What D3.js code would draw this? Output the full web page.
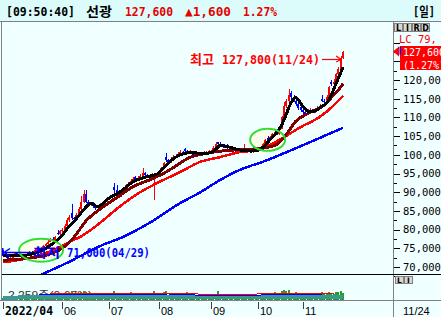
<!DOCTYPE html>
<html><head><meta charset="utf-8">
<script src="https://cdn.jsdelivr.net/npm/d3@7"></script>
<style>
html,body{margin:0;padding:0;background:#f0ffff;overflow:hidden}
svg{display:block}
</style></head><body>
<svg id="c" width="441" height="317"></svg>
<script>
// ---------- DATA ----------
const holidays = ["2022-05-05","2022-06-01","2022-06-06","2022-08-15","2022-09-09","2022-09-12","2022-10-03","2022-10-10"];
const firstDay = "2022-04-26", lastDay = "2022-11-24";
const tickMonths = ["2022-04","2022-06","2022-07","2022-08","2022-09","2022-10","2022-11"];
const tickLabels = ["2022/04","06","07","08","09","10","11"];
const priceTicks = [70000,75000,80000,85000,90000,95000,100000,105000,110000,115000,120000];

// daily candles [open, high, low, close]
const candles = [
[74000,74500,73000,73300],[73300,73800,72500,72800],[72800,73200,71800,72000],[72000,72800,71000,72500],
[72500,73500,72300,73200],[73200,74000,73000,73800],[73800,74000,73200,73500],[73500,73700,72800,73000],
[73000,73200,72400,72700],[72700,73400,72500,73100],[73100,73900,73000,73600],[73600,74300,73400,74000],
[74000,74200,73500,73700],[73700,74500,73600,74200],[74200,75000,74000,74800],[74800,75000,74200,74400],
[74400,75300,74300,75000],[75000,75900,74800,75600],[75600,76500,75400,76200],[76200,77200,76000,76800],
[76800,77800,76600,77500],[77500,77900,76900,77200],[77200,78300,77000,78000],[79200,79800,78500,78800],
[78800,79800,78600,79500],
[79500,80500,79200,80000],[80000,81500,79800,81000],[81000,83000,80800,82500],[82500,84000,82000,83500],
[84500,86800,82500,83000],[83000,83500,82000,82800],[82800,84500,82600,84000],[84000,86000,83800,85500],
[85500,89000,85200,87500],[87500,90600,87000,89500],[89500,90600,87000,87500],[87500,88000,86000,86500],
[86500,87500,86200,87000],[87000,87300,85800,86200],[86200,86500,85300,85800],[85800,86400,85500,86000],
[86000,87000,85800,86500],[86500,87300,86200,87000],[87000,87800,86700,87500],[87500,88400,87200,88000],
[88000,89000,87800,88500],[88500,89600,88300,89200],[91500,92500,89800,90500],[90500,91800,89500,89800],
[89800,90200,88700,89000],[89000,90200,88800,89800],[89800,91200,89600,90800],[90800,92300,90500,91800],
[91800,92800,91500,92300],[92300,93400,92000,93000],[93000,94000,92800,93500],[94000,94300,93000,93200],
[93200,94200,93000,93800],[93800,94800,93600,94200],[94200,96500,94000,95200],[95200,95500,94200,94500],
[94500,94800,93700,94000],[94000,94700,93800,94300],[94300,95200,94000,94800],[93500,95000,88000,94500],
[94500,95400,94300,95000],
[95000,95900,94800,95500],[95500,96800,95300,96500],[96500,98200,96300,97800],[99500,100500,98200,98500],
[98500,98800,97600,98000],[98000,99400,97800,99000],[99000,99900,98700,99500],[99500,100200,99200,99800],
[99800,100700,99600,100300],[100300,101200,100000,100800],[100800,101000,100200,100500],[101500,101800,100800,101000],
[101000,101200,100300,100500],[100500,101200,100300,100800],[100800,101000,100000,100200],[100200,100500,99700,100000],
[100000,100700,99800,100300],[100300,100500,99600,99900],[99900,100500,99700,100200],[100200,100900,100000,100500],
[100500,101000,100300,100700],[100700,101200,100500,100800],
[100800,101400,100600,101000],[101000,102300,100800,101800],[101800,103400,101600,102800],[103300,103500,102500,103000],
[103000,103300,102200,102500],[102500,102800,101900,102200],[102200,102600,101700,102000],[102500,102800,101600,101800],
[101800,102000,101200,101500],[101500,101800,101000,101300],[101300,101500,100700,101000],[101000,101500,100800,101200],
[101200,101400,100700,101000],[101000,101600,100800,101300],[101300,102800,101100,101500],[101500,101700,101000,101200],
[101200,101400,100700,101000],[101000,101200,100500,100800],[100800,101300,100600,101000],[101000,101600,100800,101200],
[101200,101800,101000,101500],[101500,102300,101300,102000],[102000,103100,101800,102800],[102800,104300,102600,104000],
[104500,105000,103500,103800],[103800,105100,103600,104800],[104800,105900,104500,105500],[105500,106400,105200,106000],
[106300,106500,105200,105500],[105500,107500,105300,107000],[107000,110500,106800,110000],[110000,114000,109500,113000],
[113000,115000,112500,114500],[114500,117500,114000,116000],[116500,117000,115000,115500],[115500,116000,114000,114500],
[114500,115000,113000,113500],[113500,113800,112000,112500],[112800,113200,111500,112000],
[112000,112300,111000,111500],[111500,111800,110500,111000],[111000,112200,110800,111800],[111800,112500,111500,112000],
[112000,112300,111200,111500],[111500,112600,111300,112200],[112200,113000,112000,112500],[112500,113500,112300,113000],
[115000,116000,114000,114500],[114500,114800,113600,114000],[114000,116000,113800,115500],[115500,118500,115300,118000],
[119500,120000,118500,119000],[119000,120200,118700,119500],[119500,122000,119300,121500],[121500,123500,121000,123000],
[123000,126500,122500,126000],[126000,127800,125500,127600]
];

// moving averages: [day index, value]
const ma5 = [[0,73200],[5,73000],[10,73200],[15,74000],[20,75800],[25,78500],[28,81000],[30,82200],[33,84500],[35,86000],[37,87000],[40,86200],[45,88500],[50,90300],[55,92800],[60,94000],[65,94800],[68,96500],[70,97800],[75,100000],[80,100600],[85,100300],[88,100600],[90,101500],[92,102500],[95,102200],[100,101300],[105,101000],[108,101200],[110,102000],[113,104000],[115,105300],[118,108000],[120,111000],[122,114000],[124,115300],[126,113800],[128,112200],[130,111500],[133,112000],[135,113000],[137,113800],[139,116000],[141,119000],[143,122000],[144,123500]];
const ma20 = [[0,71800],[10,72300],[20,73500],[25,75000],[30,78000],[35,82300],[41,85500],[48,88500],[55,91500],[62,93300],[69,95400],[75,97800],[79,99300],[83,100000],[90,100800],[98,101300],[105,101500],[112,102000],[116,102800],[120,105500],[124,109000],[129,111000],[134,112500],[137,113800],[139,115300],[142,117300],[144,119000]];
const ma60 = [[0,71300],[13,72700],[21,74500],[29,77000],[33,78200],[41,81800],[49,86000],[58,90000],[66,92700],[75,95400],[83,98000],[92,99400],[100,100700],[108,101300],[117,104000],[126,107400],[134,110100],[140,113200],[144,115800]];
const ma120 = [[0,63300],[10,66200],[17,68200],[27,71100],[44,76400],[48,77300],[62,81800],[75,87100],[83,89800],[92,93300],[100,95900],[112,98600],[120,100700],[130,103400],[144,107200]];

// volume (thousand shares)
const volume = [20,18,25,30,22,18,15,17,16,20,22,18,16,20,24,18,20,25,28,30,35,26,30,40,38,
45,50,60,55,80,40,38,50,70,85,75,45,35,30,28,30,35,45,40,38,
42,55,85,60,45,40,50,55,48,70,60,45,40,42,65,40,35,38,50,80,55,
50,60,70,85,50,45,48,52,40,55,60,50,75,45,40,35,38,42,35,40,38,36,
35,40,55,80,50,38,35,42,38,30,28,30,32,35,40,30,28,30,32,35,
38,40,45,55,60,58,65,75,55,60,80,95,85,90,60,55,70,50,45,
60,45,40,42,38,40,45,48,70,55,60,75,65,55,70,75,85,60];
const volMaA = [[0,22],[30,26],[60,27],[90,24],[120,27],[144,28]];
const volMaB = [[15,50],[40,52],[55,50],[70,55],[80,46],[100,42],[120,50],[135,52]];
const volMaC = [[20,58],[45,60],[60,56],[75,58],[95,50],[115,58],[125,60],[140,56]];

const hdr = {time:"[09:50:40]", name:"선광", price:"127,600", chg:"▲1,600", pct:"1.27%", period:"[일]"};
const hiNote = {idx:144, val:127800, label:"최고", text:"127,800(11/24)"};
const loNote = {idx:3, val:71000, label:"최저", text:"71,000(04/29)"};
const volText = "2,259주(0.67%)";
const lastLabel = {price:"127,600", pct:"(1.27%)", lc:"LC  79,"};

// ---------- BUILD ----------
const dates = (()=>{const out=[];let t=Date.parse(firstDay+"T00:00:00Z");const end=Date.parse(lastDay+"T00:00:00Z");
  while(t<=end){const d=new Date(t);const s=d.toISOString().slice(0,10);const w=d.getUTCDay();
    if(w!==0&&w!==6&&!holidays.includes(s))out.push(s);t+=86400000;}return out;})();

const svg = d3.select("#c");
const W=441,H=317;
const RED="#ff0000", BLUE="#0000ff", HRED="#e60000";
const x = d3.scalePoint().domain(dates).range([3.3,343.1]);
const y = d3.scaleLinear().domain([70000,120000]).range([267,80]);
const yv = d3.scaleLinear().domain([0,220]).range([300,276]);
const xi = i=>x(dates[i]);

svg.append("rect").attr("width",W).attr("height",H).attr("fill","#f0ffff");
svg.append("rect").attr("width",W).attr("height",21).attr("fill","#dcfcfc");

const defs = svg.append("defs");
defs.append("clipPath").attr("id","cp").append("rect").attr("x",2).attr("y",22).attr("width",391).attr("height",252);
defs.append("clipPath").attr("id","cv").append("rect").attr("x",2).attr("y",275).attr("width",391).attr("height",25);

// frame lines
const frame = svg.append("g").attr("shape-rendering","crispEdges");
frame.append("line").attr("x1",0).attr("x2",W).attr("y1",21.5).attr("y2",21.5).attr("stroke","#808080");
frame.append("line").attr("x1",1.5).attr("x2",1.5).attr("y1",22).attr("y2",301).attr("stroke","#808080");
frame.append("line").attr("x1",393.5).attr("x2",393.5).attr("y1",22).attr("y2",H).attr("stroke","#808080");
frame.append("line").attr("x1",2).attr("x2",W).attr("y1",274.5).attr("y2",274.5).attr("stroke","#000");
frame.append("line").attr("x1",0).attr("x2",W).attr("y1",300.5).attr("y2",300.5).attr("stroke","#808080");

// header
const hf = "'DejaVu Sans Mono','Noto Sans CJK KR',monospace";
function htext(t,xx,len,col){svg.append("text").attr("x",xx).attr("y",15.5).attr("font-family",hf).attr("font-weight","bold")
  .attr("font-size",13).attr("fill",col).attr("textLength",len).attr("lengthAdjust","spacingAndGlyphs").text(t);}
htext(hdr.time,6,69,"#000");
htext(hdr.name,86,26,"#000");
htext(hdr.price,125,48,HRED);
htext(hdr.chg,185,46,HRED);
htext(hdr.pct,243,34,HRED);
htext(hdr.period,413,22,"#000");

// price pane
const pane = svg.append("g").attr("clip-path","url(#cp)");
const ell = [{i:16,v:74500,rx:22,ry:11.5},{i:112,v:104000,rx:17.5,ry:11}];
pane.selectAll("ellipse.f").data(ell).join("ellipse").attr("cx",d=>xi(d.i)).attr("cy",d=>y(d.v))
  .attr("rx",d=>d.rx).attr("ry",d=>d.ry).attr("fill","#fffbe6").attr("opacity",0.8);

const cg = pane.append("g").attr("shape-rendering","crispEdges");
cg.selectAll("line").data(candles).join("line")
  .attr("x1",(d,i)=>Math.round(xi(i))+0.5).attr("x2",(d,i)=>Math.round(xi(i))+0.5)
  .attr("y1",d=>y(d[1])).attr("y2",d=>y(d[2]))
  .attr("stroke",d=>d[3]>=d[0]?RED:BLUE);
cg.selectAll("rect").data(candles).join("rect")
  .attr("x",(d,i)=>Math.round(xi(i))-1).attr("width",2)
  .attr("y",d=>y(Math.max(d[0],d[3]))).attr("height",d=>Math.max(1,Math.abs(y(d[0])-y(d[3]))))
  .attr("fill",d=>d[3]>=d[0]?RED:BLUE);

const line = d3.line().x(d=>xi(d[0])).y(d=>y(d[1])).curve(d3.curveMonotoneX);
[[ma120,BLUE,2.5],[ma60,RED,2.5],[ma20,"#800000",3],[ma5,"#000",3]].forEach(([a,c,w])=>{
  pane.append("path").attr("d",line(a)).attr("fill","none").attr("stroke",c).attr("stroke-width",w)
    .attr("shape-rendering","crispEdges");
});
pane.selectAll("ellipse.s").data(ell).join("ellipse").attr("cx",d=>xi(d.i)).attr("cy",d=>y(d.v))
  .attr("rx",d=>d.rx).attr("ry",d=>d.ry).attr("fill","none").attr("stroke","#33dd33").attr("stroke-width",2);

// annotations
const af = "'DejaVu Sans Mono','Noto Sans CJK KR',monospace";
function atext(t,xx,yy,len,col){svg.append("text").attr("x",xx).attr("y",yy).attr("font-family",af).attr("font-weight","bold")
  .attr("font-size",13).attr("fill",col).attr("textLength",len).attr("lengthAdjust","spacingAndGlyphs").text(t);}
const hx = xi(hiNote.idx);
atext(hiNote.label,190,63.5,24,RED);
atext(hiNote.text,222,63.5,98,RED);
svg.append("line").attr("x1",322).attr("x2",hx-3).attr("y1",59.5).attr("y2",59.5).attr("stroke",RED).attr("stroke-width",1.2);
svg.append("path").attr("d",`M${hx-7},${56} L${hx-2},${59.5} L${hx-7},${62}`).attr("fill","none").attr("stroke",RED).attr("stroke-width",1.2);

const lx = 3, ly = 252.5;
svg.append("line").attr("x1",lx+2).attr("x2",31).attr("y1",ly).attr("y2",ly).attr("stroke",BLUE).attr("stroke-width",1.5);
svg.append("path").attr("d",`M${lx+7},${ly-4} L${lx+1},${ly} L${lx+7},${ly+4}`).attr("fill","none").attr("stroke",BLUE).attr("stroke-width",1.5);
svg.append("rect").attr("x",2).attr("y",248).attr("width",1.5).attr("height",8).attr("fill",BLUE);
atext(loNote.label,33,257,27,BLUE);
atext(loNote.text,67,257,83,BLUE);

// right price axis
const af2 = "'DejaVu Sans Mono',monospace";
const ax = svg.append("g").attr("transform","translate(393.5,0)")
  .call(d3.axisRight(y).tickValues(priceTicks).tickSize(6).tickPadding(3.5).tickFormat(d3.format(",")));
ax.select(".domain").remove();
ax.selectAll("text").attr("font-family",af2).attr("font-size",10.5).attr("fill","#000");
ax.selectAll("line").attr("stroke","#000").attr("shape-rendering","crispEdges");
const minor = d3.range(67500,130001,2500).filter(v=>!priceTicks.includes(v));
svg.append("g").attr("shape-rendering","crispEdges").selectAll("line").data(minor).join("line")
  .attr("x1",393.5).attr("x2",d=>d%5000===0?399.5:397).attr("y1",d=>Math.round(y(d))+0.5).attr("y2",d=>Math.round(y(d))+0.5).attr("stroke","#000");

// LIRD buttons
const btn = ["L","I","R","D"];
const bg = svg.append("g").attr("shape-rendering","crispEdges");
btn.forEach((b,k)=>{
  bg.append("rect").attr("x",394.5+k*9).attr("y",23.5).attr("width",8).attr("height",8).attr("fill","#d8d8d0").attr("stroke","#808080");
  svg.append("text").attr("x",398.5+k*9).attr("y",30.5).attr("text-anchor","middle").attr("font-family","'DejaVu Sans'")
    .attr("font-weight","bold").attr("font-size",8).attr("fill","#000").text(b);
});
["L","I"].forEach((b,k)=>{
  bg.append("rect").attr("x",395.5+k*9).attr("y",276.5).attr("width",8).attr("height",7).attr("fill","#d8d8d0").attr("stroke","#808080");
  svg.append("text").attr("x",399.5+k*9).attr("y",283).attr("text-anchor","middle").attr("font-family","'DejaVu Sans'")
    .attr("font-weight","bold").attr("font-size",7.5).attr("fill","#000").text(b);
});

svg.append("text").attr("x",399).attr("y",43).attr("font-family",af2).attr("font-size",10.5).attr("fill",RED).text(lastLabel.lc);
// last price box
const py = y(+lastLabel.price.replace(",",""));
svg.append("rect").attr("x",400).attr("y",46).attr("width",41).attr("height",24).attr("fill",RED);
svg.append("path").attr("d",`M393,${py} L399,${py-5} L399,${py+5}Z`).attr("fill",RED);
svg.append("rect").attr("x",399.5).attr("y",py-5).attr("width",1.5).attr("height",8).attr("fill",BLUE);
svg.append("text").attr("x",403).attr("y",56).attr("font-family",af2).attr("font-size",10).attr("fill","#fff").text(lastLabel.price);
svg.append("text").attr("x",403).attr("y",68.5).attr("font-family",af2).attr("font-size",10).attr("fill","#fff").text(lastLabel.pct);

// volume pane
const vp = svg.append("g").attr("clip-path","url(#cv)");
vp.append("text").attr("x",8).attr("y",299).attr("font-family","'Liberation Sans','Noto Sans CJK KR'").attr("font-size",11)
  .attr("fill","#333").attr("textLength",84).attr("lengthAdjust","spacingAndGlyphs").text(volText);
vp.append("g").attr("shape-rendering","crispEdges").selectAll("rect").data(volume).join("rect")
  .attr("x",(d,i)=>Math.round(xi(i))-1).attr("width",2).attr("y",d=>yv(d)).attr("height",d=>300-yv(d)).attr("fill","#22a022");
const vline = d3.line().x(d=>xi(d[0])).y(d=>yv(d[1]));
vp.append("path").attr("d",vline(volMaA)).attr("fill","none").attr("stroke","#3f9595").attr("stroke-width",4).attr("shape-rendering","crispEdges");
vp.append("path").attr("d",vline(volMaB)).attr("fill","none").attr("stroke",BLUE).attr("stroke-width",1).attr("shape-rendering","crispEdges");
vp.append("path").attr("d",vline(volMaC)).attr("fill","none").attr("stroke",RED).attr("stroke-width",1).attr("shape-rendering","crispEdges");

// bottom date axis
const tickIdx = tickMonths.map(m=>dates.findIndex(d=>d.startsWith(m)));
const dg = svg.append("g");
tickIdx.forEach((ti,k)=>{
  const tx = Math.round(xi(ti))+0.5;
  dg.append("line").attr("x1",tx).attr("x2",tx).attr("y1",302).attr("y2",309).attr("stroke","#404040").attr("shape-rendering","crispEdges");
  const t = dg.append("text").attr("x",tx+1.5).attr("y",315).attr("fill","#000");
  if(k===0) t.attr("font-family","'DejaVu Sans Mono',monospace").attr("font-weight","bold").attr("font-size",12.5).attr("textLength",48).attr("lengthAdjust","spacingAndGlyphs");
  else t.attr("font-family","'Liberation Sans',sans-serif").attr("font-size",11);
  t.text(tickLabels[k]);
});
const lastD = dates[dates.length-1];
dg.append("text").attr("x",403).attr("y",315).attr("font-family","'Liberation Sans',sans-serif").attr("font-size",11).attr("fill","#000")
  .text(lastD.slice(5,7)+"/"+lastD.slice(8,10));
</script>
</body></html>
